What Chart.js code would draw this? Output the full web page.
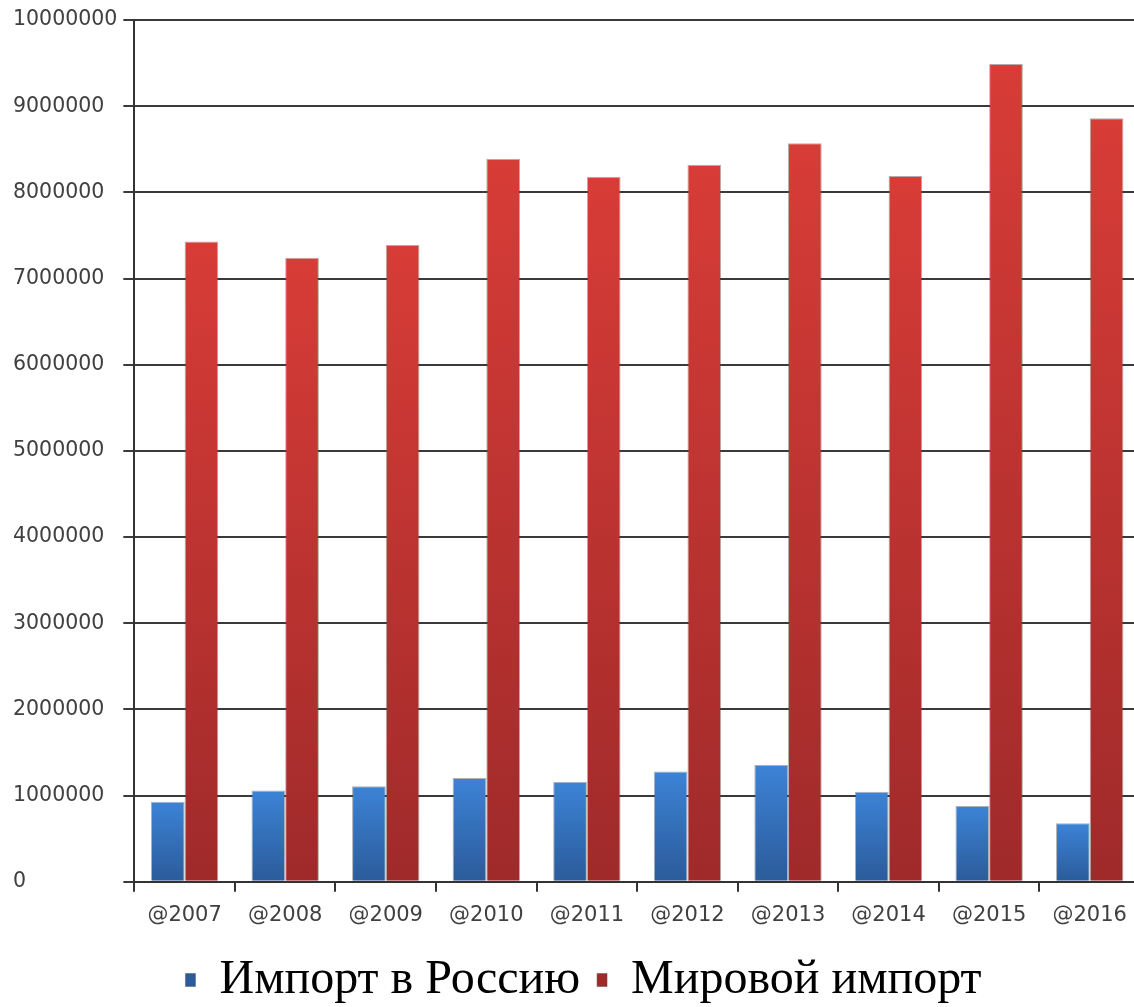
<!DOCTYPE html>
<html>
<head>
<meta charset="utf-8">
<script src="https://cdn.jsdelivr.net/npm/chart.js@4.4.0/dist/chart.umd.min.js"></script>
<style>
  html, body { margin: 0; padding: 0; background: #fff; overflow: hidden; }
  #wrap { width: 1190px; height: 1007px; }
</style>
</head>
<body>
<div id="wrap"><canvas id="c" width="1190" height="1007"></canvas></div>
<script>
const categories = ['@2007','@2008','@2009','@2010','@2011','@2012','@2013','@2014','@2015','@2016'];
const russiaImport = [930000, 1060000, 1110000, 1205000, 1160000, 1280000, 1356000, 1046000, 880000, 680000];
const worldImport = [7430000, 7240000, 7390000, 8390000, 8180000, 8320000, 8570000, 8190000, 9490000, 8860000];
const seriesNames = ['Импорт в Россию', 'Мировой импорт'];

function barGradient(light, dark, fallback) {
  return function(ctx) {
    const chart = ctx.chart;
    if (!chart.chartArea || ctx.raw === undefined) return fallback;
    const ys = chart.scales.y;
    const top = ys.getPixelForValue(ctx.raw);
    const bottom = ys.getPixelForValue(0);
    if (!isFinite(top) || !isFinite(bottom) || top === bottom) return fallback;
    const g = chart.ctx.createLinearGradient(0, top, 0, bottom);
    g.addColorStop(0, light);
    g.addColorStop(1, dark);
    return g;
  };
}

// shift the bottom legend slightly right, as in the reference
const legendShift = {
  id: 'legendShift',
  afterLayout(chart) {
    if (chart.legend) {
      chart.legend.left += 7;
      chart.legend.right += 7;
    }
  }
};

new Chart(document.getElementById('c'), {
  type: 'bar',
  data: {
    labels: categories,
    datasets: [
      {
        label: seriesNames[0],
        data: russiaImport,
        backgroundColor: barGradient('#3c83d6', '#2b5b9a', '#3470bb'),
        borderColor: 'rgba(70,80,100,0.45)',
        borderWidth: 1,
        categoryPercentage: 0.67,
        barPercentage: 1.0
      },
      {
        label: seriesNames[1],
        data: worldImport,
        backgroundColor: barGradient('#d83c37', '#9f2a2a', '#c23532'),
        borderColor: 'rgba(90,70,70,0.45)',
        borderWidth: 1,
        categoryPercentage: 0.67,
        barPercentage: 1.0
      }
    ]
  },
  plugins: [legendShift],
  options: {
    responsive: false,
    animation: false,
    layout: { padding: { left: 13, right: 50, top: 20, bottom: -7 } },
    scales: {
      x: {
        offset: true,
        grid: {
          display: true,
          drawOnChartArea: false,
          drawTicks: true,
          tickLength: 10,
          color: '#333',
          lineWidth: 2,
          offset: true
        },
        border: { display: true, color: '#333', width: 2 },
        ticks: {
          color: '#404040',
          font: { family: 'DejaVu Sans', size: 21 },
          padding: 11,
          maxRotation: 0,
          autoSkip: false
        }
      },
      y: {
        min: 0,
        max: 10000000,
        grid: {
          color: '#3a3a3a',
          lineWidth: 2,
          tickLength: 11,
          drawTicks: true
        },
        border: { display: true, color: '#333', width: 2 },
        ticks: {
          stepSize: 1000000,
          color: '#404040',
          font: { family: 'DejaVu Sans', size: 20.5 },
          padding: 3,
          crossAlign: 'far',
          callback: (v) => String(v)
        }
      }
    },
    plugins: {
      legend: {
        position: 'bottom',
        labels: {
          boxWidth: 10,
          boxHeight: 13,
          color: '#000',
          padding: 17,
          font: { family: 'Liberation Serif', size: 48 }
        }
      },
      tooltip: { enabled: false }
    }
  }
});
</script>
</body>
</html>
